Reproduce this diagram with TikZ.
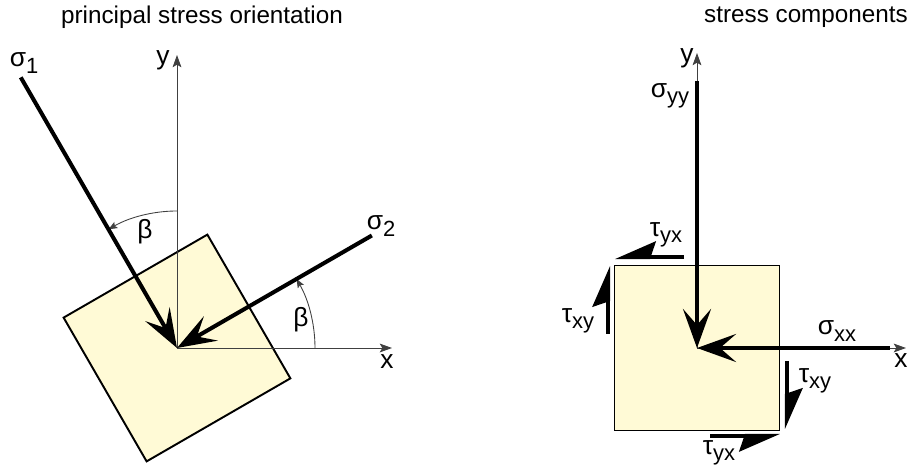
\documentclass[tikz,border=0pt]{standalone}
\usepackage{fontspec}
\setmainfont{Liberation Sans}
\usetikzlibrary{arrows.meta,positioning,calc}
\definecolor{paper}{RGB}{255,250,214}
\newcommand{\lowidx}[1]{\raisebox{-0.45ex}{\fontsize{12.5}{14}\selectfont #1}}
\tikzset{
  axis/.style={line width=0.5pt, black!75, -{Stealth[length=7pt,width=5pt,inset=1.5pt]}},
  anglearc/.style={line width=0.5pt, black!75, -{Stealth[length=5pt,width=4pt,inset=1pt]}},
  load/.style={line width=2.3pt, -{Stealth[length=0.78cm,width=0.56cm,inset=0.32cm]}},
  shearL/.style={line width=2.3pt, -{Stealth[harpoon,length=0.72cm,width=0.62cm,inset=0.1cm]}},
  shearR/.style={line width=2.3pt, -{Stealth[harpoon,swap,length=0.72cm,width=0.62cm,inset=0.1cm]}},
  block/.style={draw, line width=1.1pt, fill=paper, minimum size=3.32cm, inner sep=0pt},
  ttl/.style={font=\fontsize{13.8}{16}\selectfont, inner sep=0pt},
  lbl/.style={font=\fontsize{15}{17}\selectfont, inner sep=0pt},
}

\begin{document}
\begin{tikzpicture}
\useasboundingbox (-3.54,-2.34) rectangle (14.64,6.96);
% ---- principal stress orientation
\node[ttl] (ttlA) at (0.5,6.62) {principal stress orientation};
\coordinate (O) at (0,0);
\node[block, rotate=30] (blkA) at (O) {};
% axes
\coordinate (yA) at (0,5.86);
\coordinate (xA) at (4.3,0);
\draw[axis] (O) -- (yA);
\draw[axis] (O) -- (xA);
\node[lbl] (ylA) at (-0.28,5.76) {y};
\node[lbl] (xlA) at (4.2,-0.28) {x};
% angle beta
\draw[anglearc] (90:2.74) arc (90:120:2.74);
\draw[anglearc] (0:2.76) arc (0:30:2.76);
\node[lbl] (b1) at (-0.64,2.32) {β};
\node[lbl] (b2) at (2.48,0.56) {β};
% principal stresses
\coordinate (s1) at (120:6.25);
\coordinate (s2) at (30:4.5);
\draw[load] (s1) -- (O);
\draw[load] (s2) -- (O);
\node[lbl] (ls1) at (-3.06,5.7) {σ\lowidx{1}};
\node[lbl] (ls2) at (4.08,2.44) {σ\lowidx{2}};

% ---- stress components
\begin{scope}[shift={(10.4,0)}]
\node[ttl] (ttlB) at (2.18,6.62) {stress components};
\coordinate (R) at (0,0);
\node[block, minimum size=3.3cm] (blkB) at (R) {};
\coordinate (yB) at (0,5.9);
\coordinate (xB) at (4.18,0);
\draw[axis] (R) -- (yB);
\draw[axis] (R) -- (xB);
\node[lbl] (ylB) at (-0.2,5.8) {y};
\node[lbl] (xlB) at (4.08,-0.26) {x};
% normal stresses
\coordinate (syy) at (0,5.34);
\coordinate (sxx) at (3.86,0);
\draw[load] (syy) -- (R);
\draw[load] (sxx) -- (R);
\node[lbl] (lsyy) at (-0.54,5.04) {σ\lowidx{yy}};
\node[lbl] (lsxx) at (2.8,0.34) {σ\lowidx{xx}};
% shear stresses
\foreach \a/\b/\s in {{(-0.26,1.82)}/{(-1.64,1.82)}/shearR,
                      {(0.26,-1.76)}/{(1.66,-1.76)}/shearR,
                      {(-1.78,0.28)}/{(-1.78,1.64)}/shearL,
                      {(1.8,-0.26)}/{(1.8,-1.62)}/shearL}
  \draw[\s] \a -- \b;
\node[lbl] (tyx1) at (-0.62,2.26) {τ\lowidx{yx}};
\node[lbl] (txy1) at (-2.38,0.54) {τ\lowidx{xy}};
\node[lbl] (txy2) at (2.36,-0.66) {τ\lowidx{xy}};
\node[lbl] (tyx2) at (0.44,-2.1) {τ\lowidx{yx}};
\end{scope}
\end{tikzpicture}
\end{document}
